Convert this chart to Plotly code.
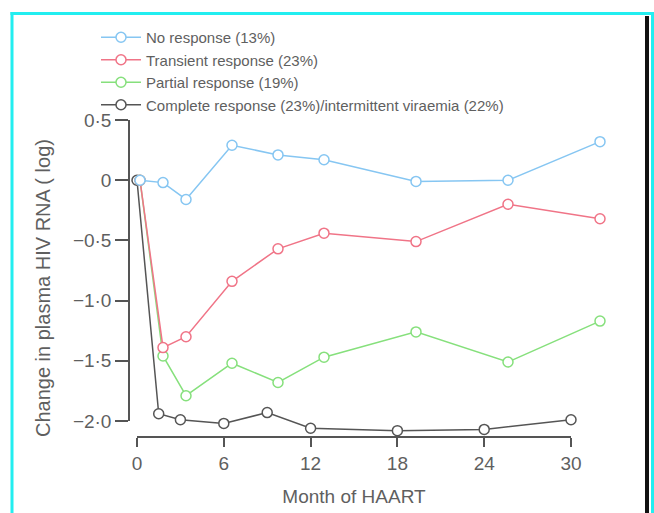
import plotly.graph_objects as go

# Months on HAART at which viral load was measured
months = [0, 1.5, 3, 6, 9, 12, 18, 24, 30]

# Mean change in plasma HIV RNA (log) per response group
no_response = [0, -0.02, -0.16, 0.29, 0.21, 0.17, -0.01, 0.0, 0.32]
transient = [0, -1.39, -1.30, -0.84, -0.57, -0.44, -0.51, -0.20, -0.32]
partial = [0, -1.46, -1.79, -1.52, -1.68, -1.47, -1.26, -1.51, -1.17]
complete = [0, -1.94, -1.99, -2.02, -1.93, -2.06, -2.08, -2.07, -1.99]

names = [
    "No response (13%)",
    "Transient response (23%)",
    "Partial response (19%)",
    "Complete response (23%)/intermittent viraemia (22%)",
]

x_ticks = [0, 6, 12, 18, 24, 30]
y_ticks = [0.5, 0, -0.5, -1.0, -1.5, -2.0]
y_ticktext = ["0·5", "0", "−0·5", "−1·0", "−1·5", "−2·0"]

W, H = 654, 513
FONT = "Liberation Sans, Arial, sans-serif"
TXT = "#5f5f5f"
AX = "#555555"


def fx(px):
    return px / W


def fy(py):
    return 1 - py / H


# pixel anchors of the plotting scales
X0, X30 = 137, 571          # axis scale (grey series)
X0b, X30b = 140, 600        # scale used by the coloured series
Y05, Ym2 = 120, 421

sx = (X30 - X0) / 30
sxb = (X30b - X0b) / 30
sy = (Ym2 - Y05) / 2.5

x_range = [-X0 / sx, (W - X0) / sx]
x2_range = [-X0b / sxb, (W - X0b) / sxb]
y_range = [-2 - (H - Ym2) / sy, 0.5 + Y05 / sy]

series = [
    (no_response, "#86c6f2", "x2"),
    (transient, "#f07487", "x2"),
    (partial, "#86e07c", "x2"),
    (complete, "#555555", "x"),
]

fig = go.Figure()

# drawn bottom-up so the "no response" curve sits on top; legend keeps order
for rank, ((vals, col, xa), name) in reversed(list(enumerate(zip(series, names)))):
    fig.add_trace(go.Scatter(
        x=months, y=vals, name=name, xaxis=xa, yaxis="y",
        mode="lines+markers", legendrank=rank + 1,
        line=dict(color=col, width=1.5),
        marker=dict(symbol="circle", size=10, color="white",
                    line=dict(color=col, width=1.5)),
        cliponaxis=False,
    ))

# invisible trace spanning the visible axes so that they are drawn
fig.add_trace(go.Scatter(
    x=[x_ticks[0], x_ticks[-1]], y=[y_ticks[-1], y_ticks[0]],
    xaxis="x3", yaxis="y3", mode="markers",
    marker=dict(opacity=0), showlegend=False, hoverinfo="skip",
))

fig.update_layout(
    template="none",
    width=W, height=H,
    margin=dict(l=0, r=0, t=0, b=0, pad=0, autoexpand=False),
    paper_bgcolor="white",
    plot_bgcolor="rgba(0,0,0,0)",
    font=dict(family=FONT, color=TXT),
    showlegend=True,
    legend=dict(
        x=fx(96), y=fy(21), xanchor="left", yanchor="top",
        bgcolor="rgba(0,0,0,0)", font=dict(size=15, color=TXT),
        tracegroupgap=0, itemwidth=40, traceorder="normal",
    ),
    xaxis=dict(domain=[0, 1], range=x_range, visible=False,
               showgrid=False, zeroline=False, fixedrange=True),
    xaxis2=dict(domain=[0, 1], range=x2_range, visible=False,
                overlaying="x", anchor="y",
                showgrid=False, zeroline=False),
    yaxis=dict(domain=[0, 1], range=y_range, visible=False,
               showgrid=False, zeroline=False),
    # visible month axis
    xaxis3=dict(domain=[fx(X0), fx(X30)], range=[0, 30],
                anchor="free", position=fy(437), automargin=False,
                tickvals=x_ticks, ticktext=[str(t) for t in x_ticks],
                ticks="outside", ticklen=9, tickwidth=1.5, tickcolor=AX,
                showline=True, linecolor=AX, linewidth=1.5,
                showgrid=False, zeroline=False,
                tickfont=dict(size=19, color=TXT),
                title=dict(text="Month of HAART", standoff=16,
                           font=dict(size=19, color=TXT))),
    # visible log change axis
    yaxis3=dict(domain=[fy(Ym2), fy(Y05)], range=[-2, 0.5],
                anchor="free", position=fx(129), automargin=False,
                tickvals=y_ticks, ticktext=y_ticktext,
                ticks="outside", ticklen=13, tickwidth=1.5, tickcolor=AX,
                showline=True, linecolor=AX, linewidth=1.5,
                showgrid=False, zeroline=False,
                tickfont=dict(size=19, color=TXT)),
    annotations=[dict(
        text="Change in plasma HIV RNA ( log)", textangle=-90,
        xref="paper", yref="paper", x=fx(43), y=fy(288),
        xanchor="center", yanchor="middle", showarrow=False,
        font=dict(size=20, color=TXT),
    )],
    shapes=[
        dict(type="line", xref="paper", yref="paper",
             x0=fx(12), x1=fx(12), y0=fy(12), y1=0,
             line=dict(color="#22eef0", width=3)),
        dict(type="line", xref="paper", yref="paper",
             x0=fx(10.5), x1=1, y0=fy(13.5), y1=fy(13.5),
             line=dict(color="#22eef0", width=3)),
        dict(type="line", xref="paper", yref="paper",
             x0=fx(652.5), x1=fx(652.5), y0=fy(12), y1=0,
             line=dict(color="#22eef0", width=3)),
        dict(type="line", xref="paper", yref="paper",
             x0=fx(647), x1=fx(647), y0=fy(16), y1=0,
             line=dict(color="#111111", width=4)),
    ],
)

fig.write_html("out.html")
